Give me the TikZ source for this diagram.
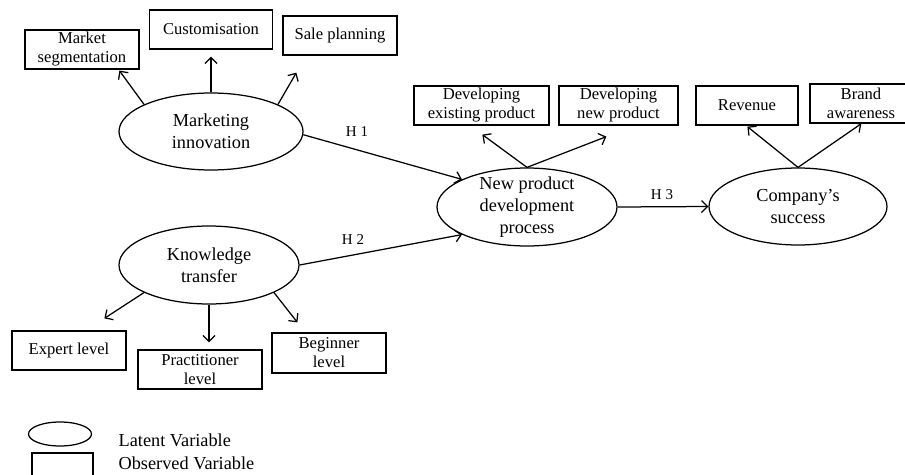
\documentclass[tikz,border=0pt]{standalone}
\usepackage{fontspec}
\setmainfont{Liberation Serif}
\usetikzlibrary{arrows.meta,calc,shapes.geometric}
\begin{document}
\begin{tikzpicture}[x=1pt,y=-1pt,
  line width=1.25pt,
  >={Straight Barb[length=6pt,width=12pt]},
  latent/.style={draw, ellipse, inner xsep=0pt, inner ysep=-6pt, align=center,
    font=\fontsize{18.3}{22}\selectfont},
  obs/.style={draw, rectangle, inner sep=0pt, minimum height=39pt, align=center,
    font=\fontsize{16.6}{19}\selectfont},
  hyp/.style={inner sep=0pt, font=\fontsize{15}{18}\selectfont},
  legend/.style={inner sep=0pt, anchor=west, font=\fontsize{18.3}{20}\selectfont}]
\useasboundingbox (0,0) rectangle (905,474);
\clip (0,0) rectangle (905,474);

% latent variables
\node[latent, minimum width=184pt, minimum height=77pt] (mi) at (211,131.5) {Marketing\\innovation};
\node[latent, minimum width=180pt, minimum height=78pt] (kt) at (209,265) {Knowledge\\transfer};
\node[latent, minimum width=180pt, minimum height=78pt] (np) at (527,207) {New product\\development\\process};
\node[latent, minimum width=178pt, minimum height=77pt] (cs) at (798,206.5) {Company’s\\success};

% observed variables
\node[obs, minimum width=114pt] (ms)  at (82,49.5)    {Market\\segmentation};
\node[obs, minimum width=123pt] (cu)  at (211,29.5)   {Customisation};
\node[obs, minimum width=114pt] (sp)  at (340,35.5)   {Sale planning};
\node[obs, minimum width=135pt] (dep) at (481.5,105.5) {Developing\\existing product};
\node[obs, minimum width=119pt] (dnp) at (618.5,105.5) {Developing\\new product};
\node[obs, minimum width=102pt] (rev) at (747,105.5)  {Revenue};
\node[obs, minimum width=102pt] (ba)  at (861,103.5)  {Brand\\awareness};
\node[obs, minimum width=114pt] (ex)  at (69,350.5)   {Expert level};
\node[obs, minimum width=124pt] (pr)  at (200,369.5)  {Practitioner\\level};
\node[obs, minimum width=114pt, minimum height=40pt] (be) at (329,353) {Beginner\\level};

% indicators
\draw[->] (mi.158) -- ($(ms.south west)+(95,1)$);
\draw[->] (mi.north) -- ($(cu.south)+(0,7)$);
\draw[->] (mi.22) -- ($(sp.south west)+(14,17)$);
\draw[->] (np.north) -- ($(dep.south west)+(69,9)$);
\draw[->] (np.north) -- ($(dnp.south west)+(48,11)$);
\draw[->] (cs.north) -- ($(rev.south west)+(52,1)$);
\draw[->] (cs.north) -- ($(ba.south west)+(52,0)$);
\draw[->] (kt.203.6) -- ($(ex.north west)+(93,-12)$);
\draw[->] (kt.south) -- ($(pr.north)+(9,-7)$);
\draw[->] (kt.-23.6) -- ($(be.north west)+(26,-10)$);

% hypotheses
\draw[->] (mi.-2) -- (np.157);
\draw[->] (kt.east) -- (np.203);
\draw[->] (np.east) -- (cs.west);
\node[hyp] (h1) at (357,132) {H 1};
\node[hyp] (h2) at (353,240) {H 2};
\node[hyp] (h3) at (662,195) {H 3};

% legend
\node[draw, ellipse, inner sep=0pt, minimum width=63pt, minimum height=24pt] (lgl) at (60,434) {};
\node[draw, rectangle, inner sep=0pt, minimum width=61pt, minimum height=23pt] (lgo) at (62.5,464.5) {};
\node[legend] (lgt1) at (118,440) {Latent Variable};
\node[legend] (lgt2) at (118,463) {Observed Variable};
\end{tikzpicture}
\end{document}
